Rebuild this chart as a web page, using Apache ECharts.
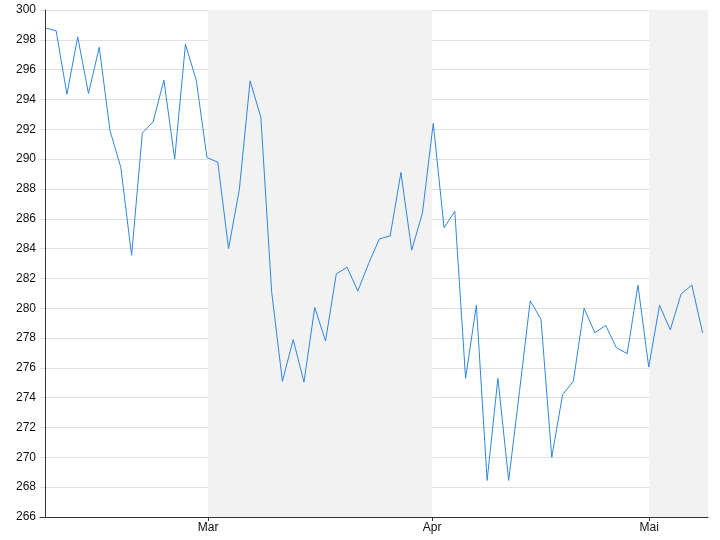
<!DOCTYPE html>
<html><head><meta charset="utf-8">
<script src="https://cdn.jsdelivr.net/npm/echarts@6/dist/echarts.min.js"></script>
<style>html,body{margin:0;padding:0;background:#fff}#c{width:720px;height:540px}</style>
</head><body><div id="c"></div>
<script>
var values = [298.8,298.6,294.35,298.2,294.4,297.5,291.9,289.45,283.55,291.75,292.5,295.3,290.0,297.7,295.3,290.1,289.8,284.0,287.95,295.25,292.8,281.1,275.1,277.9,275.05,280.05,277.8,282.3,282.75,281.15,283.0,284.65,284.85,289.1,283.9,286.4,292.4,285.4,286.5,275.3,280.2,268.45,275.3,268.45,274.4,280.5,279.25,270.0,274.2,275.1,280.0,278.35,278.85,277.35,276.95,281.55,276.05,280.2,278.55,280.95,281.55,278.35];
var monthPos = [15.1, 35.9, 56.05];
var monthLabels = ['Mar', 'Apr', 'Mai'];
var shadedBands = [[15.1, 35.9], [56.05, 61.5]];
var yMin = 266, yMax = 300, yStep = 2;

var data = values.map(function (v, i) { return [i, v]; });
var chart = echarts.init(document.getElementById('c'), null, {renderer: 'canvas'});
chart.setOption({
  animation: false,
  grid: {left: 40, right: 12, top: 10, bottom: 23},
  xAxis: {
    type: 'value', min: -0.5, max: values.length - 0.5,
    splitLine: {show: false},
    axisLine: {show: true, lineStyle: {color: '#333', width: 1}},
    axisTick: {show: true, customValues: monthPos, length: 4, lineStyle: {color: '#333'}},
    axisLabel: {
      customValues: monthPos, color: '#111', fontSize: 12, fontFamily: 'Liberation Sans, Arial, sans-serif', margin: 5,
      formatter: function (v) { var k = monthPos.indexOf(v); return k >= 0 ? monthLabels[k] : ''; }
    }
  },
  yAxis: {
    type: 'value', min: yMin, max: yMax, interval: yStep,
    axisLine: {show: true, lineStyle: {color: '#333', width: 1}},
    axisTick: {show: false},
    splitLine: {show: true, lineStyle: {color: '#e0e0e0', width: 1}},
    axisLabel: {color: '#111', fontSize: 12, fontFamily: 'Liberation Sans, Arial, sans-serif', margin: 4}
  },
  series: [{
    type: 'line', data: data, symbol: 'none', z: 3,
    lineStyle: {color: '#2f86e0', width: 1},
    markArea: {
      silent: true,
      itemStyle: {color: '#f2f2f2'},
      data: shadedBands.map(function (b) { return [{xAxis: b[0]}, {xAxis: b[1]}]; })
    }
  }]
});
</script></body></html>
